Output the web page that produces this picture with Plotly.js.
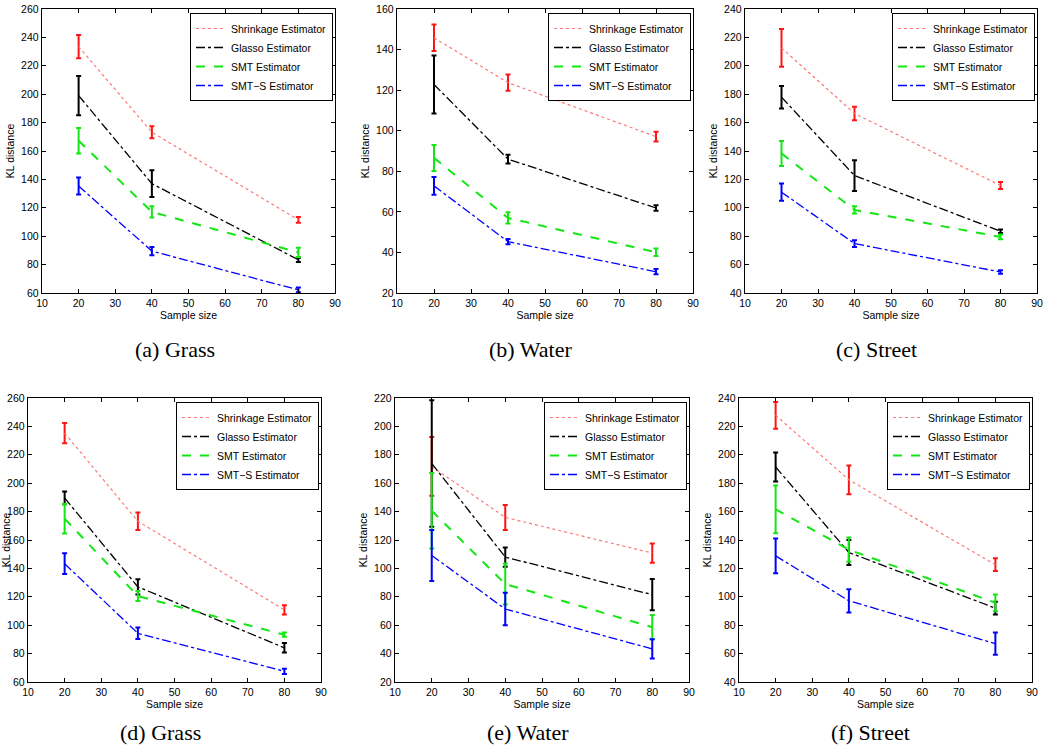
<!DOCTYPE html>
<html>
<head>
<meta charset="utf-8">
<script src="https://cdn.plot.ly/plotly-3.0.1.min.js"></script>
<style>
html,body{margin:0;padding:0;background:#fff;}
#chart{width:1047px;height:755px;}
</style>
</head>
<body>
<div id="chart"></div>
<script>
// ---- data ----
const sampleSizes = [20, 40, 80];
const seriesNames = ["Shrinkage Estimator", "Glasso Estimator", "SMT Estimator", "SMT\u2212S Estimator"];
const panelCaptions = ["(a) Grass", "(b) Water", "(c) Street", "(d) Grass", "(e) Water", "(f) Street"];
const xTitle = "Sample size";
const yTitle = "KL distance";

// (a) Grass
const shrinkA = [233.5, 173.2, 111.5], shrinkAErr = [8.2, 4.3, 2.1];
const glassoA = [199.0, 137.0, 83.4],  glassoAErr = [13.8, 9.4, 1.5];
const smtA    = [167.2, 117.1, 88.6],  smtAErr    = [9.0, 4.0, 3.2];
const smtsA   = [135.3, 89.5, 62.2],   smtsAErr   = [6.0, 2.9, 1.7];
// (b) Water
const shrinkB = [145.8, 123.7, 97.1],  shrinkBErr = [6.5, 4.0, 2.4];
const glassoB = [122.8, 86.0, 61.9],   glassoBErr = [14.3, 2.2, 1.4];
const smtB    = [86.6, 57.0, 40.1],    smtBErr    = [6.4, 2.8, 1.8];
const smtsB   = [72.8, 45.3, 30.5],    smtsBErr   = [4.4, 1.3, 1.3];
// (c) Street
const shrinkC = [212.6, 166.4, 115.7], shrinkCErr = [13.3, 4.7, 2.4];
const glassoC = [177.9, 122.7, 83.5],  glassoCErr = [7.9, 10.8, 1.2];
const smtC    = [138.3, 98.5, 79.5],   smtCErr    = [8.8, 2.6, 1.7];
const smtsC   = [111.0, 74.8, 54.8],   smtsCErr   = [6.1, 2.4, 1.2];
// (d) Grass
const shrinkD = [235.3, 173.2, 110.8], shrinkDErr = [7.1, 6.1, 3.3];
const glassoD = [189.6, 127.0, 84.1],  glassoDErr = [4.5, 5.4, 3.4];
const smtD    = [175.0, 120.5, 93.3],  smtDErr    = [10.4, 3.5, 1.5];
const smtsD   = [143.3, 94.3, 67.5],   smtsDErr   = [7.3, 4.1, 1.9];
// (e) Water
const shrinkE = [171.8, 135.9, 110.8], shrinkEErr = [20.7, 8.8, 6.8];
const glassoE = [173.9, 108.0, 81.5],  glassoEErr = [44.5, 6.8, 11.0];
const smtE    = [140.6, 89.0, 58.6],   smtEErr    = [26.5, 14.5, 8.5];
const smtsE   = [109.1, 71.4, 43.3],   smtsEErr   = [18.0, 11.4, 6.8];
// (f) Street
const shrinkF = [227.8, 182.4, 122.6], shrinkFErr = [9.4, 10.1, 4.5];
const glassoF = [191.4, 131.2, 92.0],  glassoFErr = [10.2, 8.8, 4.5];
const smtF    = [161.6, 133.2, 95.8],  smtFErr    = [16.8, 8.5, 5.9];
const smtsF   = [128.8, 97.2, 67.0],   smtsFErr   = [12.3, 8.2, 7.8];

const yRanges = [[60, 260], [20, 160], [40, 240], [60, 260], [20, 220], [40, 240]];

// ---- styles ----
const W = 1047, H = 755;
const styles = [
  {lineColor: "rgb(255,120,120)", dash: "dot", width: 1.2, errColor: "rgb(255,20,20)"},
  {lineColor: "rgb(0,0,0)", dash: "dashdot", width: 1.3, errColor: "rgb(0,0,0)"},
  {lineColor: "rgb(20,230,20)", dash: "dash", width: 2, errColor: "rgb(20,230,20)"},
  {lineColor: "rgb(0,0,255)", dash: "dashdot", width: 1.3, errColor: "rgb(0,0,255)"}
];
// panel pixel boxes [left, right, top, bottom]
const boxes = [
  [42, 335, 9, 293], [397, 693, 9, 293], [745, 1037, 9, 293],
  [28, 321, 398, 682], [395, 689, 398, 682], [739, 1032, 398, 682]
];
const captionPos = [[175, 350], [530, 350], [876, 350], [160, 732], [528, 732], [870, 732]];

const panels = [
  [[shrinkA, shrinkAErr], [glassoA, glassoAErr], [smtA, smtAErr], [smtsA, smtsAErr]],
  [[shrinkB, shrinkBErr], [glassoB, glassoBErr], [smtB, smtBErr], [smtsB, smtsBErr]],
  [[shrinkC, shrinkCErr], [glassoC, glassoCErr], [smtC, smtCErr], [smtsC, smtsCErr]],
  [[shrinkD, shrinkDErr], [glassoD, glassoDErr], [smtD, smtDErr], [smtsD, smtsDErr]],
  [[shrinkE, shrinkEErr], [glassoE, glassoEErr], [smtE, smtEErr], [smtsE, smtsEErr]],
  [[shrinkF, shrinkFErr], [glassoF, glassoFErr], [smtF, smtFErr], [smtsF, smtsFErr]]
];

const font = {family: "Liberation Sans, Arial, Helvetica, sans-serif", size: 10.5, color: "#000"};
const traces = [];
const layout = {
  width: W, height: H,
  margin: {l: 0, r: 0, t: 0, b: 0},
  paper_bgcolor: "#fff", plot_bgcolor: "#fff",
  font: font,
  annotations: []
};

panels.forEach((p, i) => {
  const n = i + 1;
  const xa = n === 1 ? "x" : "x" + n;
  const ya = n === 1 ? "y" : "y" + n;
  const lg = n === 1 ? "legend" : "legend" + n;
  p.forEach((s, k) => {
    const st = styles[k];
    traces.push({
      type: "scatter", mode: "lines",
      x: sampleSizes, y: s[0],
      name: seriesNames[k],
      xaxis: xa, yaxis: ya, legend: lg,
      line: {color: st.lineColor, dash: st.dash, width: st.width},
      error_y: {type: "data", array: s[1], visible: true, color: st.errColor, thickness: 2, width: 2.5},
      hoverinfo: "skip"
    });
  });
  const b = boxes[i];
  const axCommon = {
    showline: true, linecolor: "#000", linewidth: 1.3, mirror: "ticks",
    ticks: "inside", ticklen: 4, tickcolor: "#000", tickwidth: 1,
    showgrid: false, zeroline: false, tickfont: font, automargin: false, fixedrange: true
  };
  layout["xaxis" + (n === 1 ? "" : n)] = Object.assign({}, axCommon, {
    domain: [b[0] / W, b[1] / W], anchor: ya,
    range: [10, 90], tick0: 10, dtick: 10,
    title: {text: xTitle, font: font, standoff: 2}
  });
  const yr = yRanges[i];
  layout["yaxis" + (n === 1 ? "" : n)] = Object.assign({}, axCommon, {
    domain: [1 - b[3] / H, 1 - b[2] / H], anchor: xa,
    range: yr, tick0: yr[0], dtick: 20,
    title: {text: yTitle, font: font, standoff: 4}
  });
  layout[lg] = {
    x: (b[1] - 2) / W, xanchor: "right",
    y: 1 - (b[2] + 4) / H, yanchor: "top",
    bgcolor: "#fff", bordercolor: "#000", borderwidth: 1,
    font: font, itemwidth: 30, tracegroupgap: 0, traceorder: "normal"
  };
  layout.annotations.push({
    text: panelCaptions[i], xref: "paper", yref: "paper",
    x: captionPos[i][0] / W, y: 1 - captionPos[i][1] / H,
    xanchor: "center", yanchor: "middle", showarrow: false,
    font: {family: "Liberation Serif, Times New Roman, serif", size: 22, color: "#000"}
  });
});

Plotly.newPlot("chart", traces, layout, {displayModeBar: false, staticPlot: true});
</script>
</body>
</html>
